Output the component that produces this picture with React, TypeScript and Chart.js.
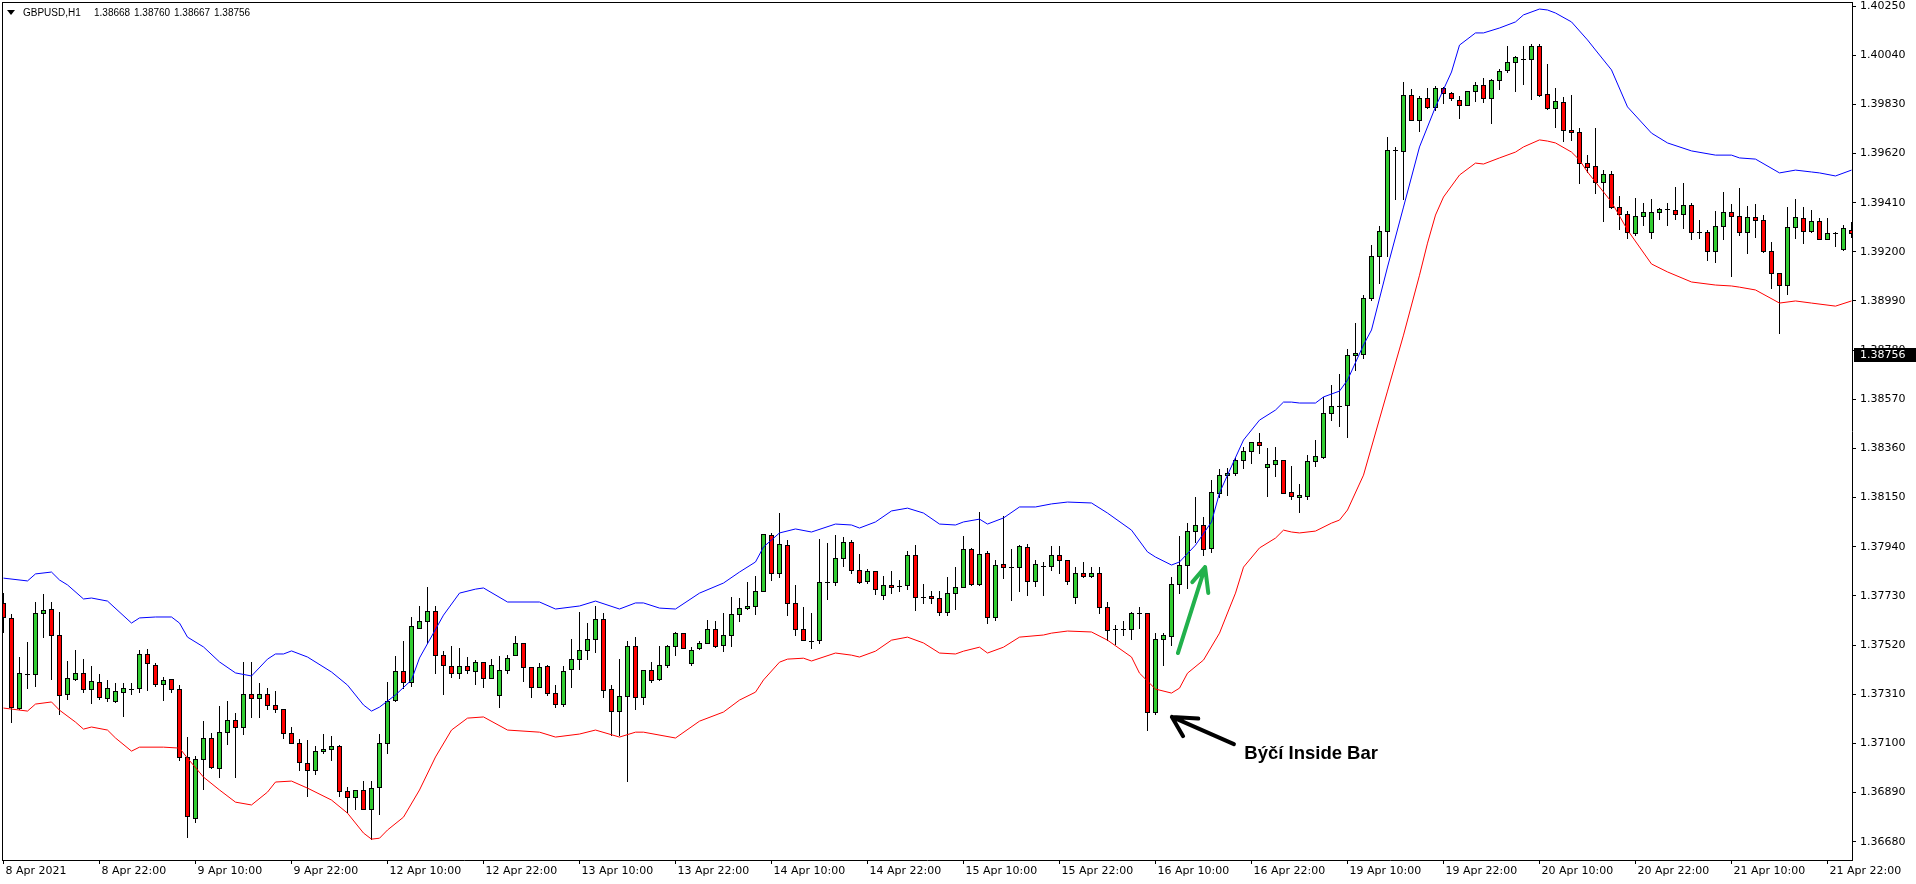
import React, { useEffect, useRef } from 'react';
import { Chart, registerables } from 'chart.js';

Chart.register(...registerables);

// ---------- DATA (GBPUSD H1, bar index 0 = 8 Apr 2021 10:00) ----------
const OPEN = [
  1.37698,1.37634,1.37252,1.37396,1.37395,1.37655,1.37672,1.37561,1.37309,1.37376,1.37399,1.37331,
  1.37361,1.37292,1.37282,1.37318,1.37333,1.37335,1.37484,1.37437,1.37352,1.37373,1.37331,1.37043,
  1.36780,1.37032,1.37121,1.36997,1.37147,1.37198,1.37168,1.37309,1.37292,1.37309,1.37262,1.37245,
  1.37143,1.37100,1.37015,1.36985,1.37066,1.37075,1.37088,1.36895,1.36872,1.36899,1.36818,1.36912,
  1.37100,1.37284,1.37408,1.37361,1.37595,1.37621,1.37664,1.37476,1.37431,1.37399,1.37429,1.37408,
  1.37446,1.37378,1.37305,1.37412,1.37476,1.37531,1.37425,1.37343,1.37429,1.37314,1.37267,1.37416,
  1.37459,1.37497,1.37548,1.37630,1.37331,1.37237,1.37301,1.37514,1.37297,1.37412,1.37373,1.37437,
  1.37514,1.37570,1.37442,1.37506,1.37527,1.37587,1.37519,1.37565,1.37651,1.37677,1.37689,1.37753,
  1.37989,1.37830,1.37946,1.37698,1.37587,1.37538,1.37540,1.37789,1.37788,1.37890,1.37959,1.37840,
  1.37792,1.37835,1.37732,1.37775,1.37773,1.37775,1.37903,1.37726,1.37728,1.37719,1.37660,1.37741,
  1.37766,1.37929,1.37779,1.37912,1.37638,1.37865,1.37852,1.37852,1.37937,1.37792,1.37859,1.37856,
  1.37903,1.37882,1.37724,1.37830,1.37813,1.37830,1.37681,1.37587,1.37587,1.37587,1.37655,1.37655,
  1.37235,1.37548,1.37559,1.37779,1.37860,1.38006,1.38031,1.37933,1.38169,1.38245,1.38254,1.38311,
  1.38349,1.38386,1.38280,1.38293,1.38311,1.38173,1.38152,1.38156,1.38306,1.38323,1.38510,1.38540,
  1.38544,1.38758,1.38765,1.39001,1.39181,1.39288,1.39633,1.39629,1.39869,1.39762,1.39856,1.39817,
  1.39899,1.39878,1.39848,1.39826,1.39886,1.39912,1.39856,1.39933,1.39975,1.40010,1.40025,1.40023,
  1.40078,1.39873,1.39813,1.39839,1.39720,1.39711,1.39578,1.39565,1.39497,1.39531,1.39390,1.39360,
  1.39279,1.39352,1.39283,1.39369,1.39382,1.39377,1.39360,1.39399,1.39283,1.39283,1.39202,1.39309,
  1.39369,1.39352,1.39283,1.39348,1.39335,1.39202,1.39108,1.39057,1.39305,1.39343,1.39288,1.39331,
  1.39254,1.39279,1.39211,1.39292,
];

const HIGH = [
  1.37742,1.37651,1.37470,1.37534,1.37702,1.37738,1.37703,1.37661,1.37452,1.37499,1.37460,1.37430,
  1.37395,1.37369,1.37356,1.37356,1.37356,1.37499,1.37503,1.37442,1.37383,1.37373,1.37349,1.37127,
  1.37047,1.37197,1.37145,1.37259,1.37281,1.37228,1.37447,1.37447,1.37356,1.37336,1.37323,1.37245,
  1.37168,1.37117,1.37114,1.37089,1.37140,1.37131,1.37092,1.36913,1.36899,1.36938,1.36939,1.37140,
  1.37362,1.37473,1.37537,1.37639,1.37686,1.37768,1.37686,1.37494,1.37516,1.37507,1.37467,1.37455,
  1.37446,1.37459,1.37473,1.37476,1.37558,1.37531,1.37425,1.37442,1.37433,1.37348,1.37429,1.37544,
  1.37661,1.37613,1.37686,1.37655,1.37348,1.37459,1.37536,1.37553,1.37412,1.37446,1.37514,1.37519,
  1.37574,1.37570,1.37510,1.37536,1.37625,1.37621,1.37655,1.37724,1.37720,1.37789,1.37814,1.37994,
  1.37998,1.38083,1.37968,1.37775,1.37681,1.37655,1.37972,1.37955,1.37989,1.37980,1.37968,1.37908,
  1.37843,1.37835,1.37813,1.37835,1.37796,1.37920,1.37946,1.37779,1.37749,1.37749,1.37809,1.37852,
  1.37985,1.37933,1.38087,1.37924,1.37882,1.38072,1.37929,1.37946,1.37950,1.37882,1.37873,1.37942,
  1.37942,1.37882,1.37852,1.37873,1.37852,1.37852,1.37706,1.37604,1.37621,1.37660,1.37681,1.37655,
  1.37570,1.37570,1.37811,1.37985,1.38041,1.38154,1.38069,1.38225,1.38271,1.38276,1.38319,1.38367,
  1.38386,1.38424,1.38361,1.38365,1.38311,1.38284,1.38208,1.38331,1.38397,1.38579,1.38631,1.38678,
  1.38786,1.38894,1.39015,1.39228,1.39310,1.39690,1.39647,1.39926,1.39895,1.39865,1.39899,1.39907,
  1.39903,1.39882,1.39865,1.39886,1.39924,1.39941,1.39937,1.39980,1.40078,1.40035,1.40078,1.40087,
  1.40087,1.40001,1.39899,1.39860,1.39869,1.39728,1.39612,1.39729,1.39548,1.39544,1.39437,1.39373,
  1.39429,1.39407,1.39424,1.39386,1.39407,1.39475,1.39493,1.39407,1.39335,1.39292,1.39373,1.39454,
  1.39403,1.39471,1.39394,1.39403,1.39356,1.39241,1.39108,1.39390,1.39424,1.39390,1.39378,1.39343,
  1.39343,1.39283,1.39314,1.39326,
];

const LOW = [
  1.37577,1.37190,1.37247,1.37338,1.37346,1.37555,1.37375,1.37224,1.37291,1.37370,1.37318,1.37273,
  1.37288,1.37281,1.37278,1.37218,1.37309,1.37320,1.37328,1.37346,1.37286,1.37318,1.37029,1.36699,
  1.36765,1.36905,1.36996,1.36957,1.37096,1.36957,1.37139,1.37214,1.37214,1.37245,1.37235,1.37124,
  1.37100,1.36986,1.36876,1.36970,1.37057,1.37027,1.36876,1.36805,1.36818,1.36818,1.36690,1.36797,
  1.37060,1.37279,1.37335,1.37344,1.37591,1.37527,1.37399,1.37309,1.37382,1.37378,1.37399,1.37352,
  1.37342,1.37378,1.37254,1.37399,1.37476,1.37367,1.37297,1.37339,1.37305,1.37254,1.37258,1.37339,
  1.37416,1.37459,1.37489,1.37299,1.37134,1.37134,1.36938,1.37245,1.37267,1.37361,1.37369,1.37425,
  1.37476,1.37506,1.37437,1.37502,1.37527,1.37510,1.37493,1.37514,1.37621,1.37672,1.37651,1.37749,
  1.37796,1.37809,1.37647,1.37561,1.37540,1.37506,1.37531,1.37718,1.37775,1.37856,1.37830,1.37784,
  1.37784,1.37740,1.37715,1.37741,1.37749,1.37758,1.37668,1.37698,1.37698,1.37647,1.37647,1.37672,
  1.37766,1.37775,1.37775,1.37613,1.37625,1.37806,1.37711,1.37749,1.37736,1.37771,1.37732,1.37840,
  1.37830,1.37779,1.37698,1.37809,1.37809,1.37655,1.37540,1.37523,1.37561,1.37548,1.37595,1.37158,
  1.37224,1.37434,1.37520,1.37741,1.37765,1.37959,1.37903,1.37918,1.38152,1.38161,1.38246,1.38275,
  1.38297,1.38339,1.38155,1.38242,1.38169,1.38143,1.38090,1.38143,1.38284,1.38319,1.38482,1.38454,
  1.38407,1.38697,1.38746,1.38994,1.39066,1.39182,1.39425,1.39424,1.39762,1.39717,1.39813,1.39805,
  1.39835,1.39848,1.39771,1.39826,1.39843,1.39839,1.39749,1.39894,1.39967,1.39886,1.39916,1.39854,
  1.39865,1.39809,1.39733,1.39673,1.39677,1.39493,1.39543,1.39450,1.39331,1.39386,1.39296,1.39258,
  1.39271,1.39313,1.39258,1.39339,1.39313,1.39339,1.39301,1.39254,1.39258,1.39164,1.39156,1.39254,
  1.39096,1.39271,1.39194,1.39262,1.39198,1.39044,1.38852,1.39019,1.39258,1.39237,1.39283,1.39254,
  1.39254,1.39224,1.39207,1.39262,
];

const CLOSE = [
  1.37638,1.37256,1.37399,1.37396,1.37655,1.37669,1.37561,1.37305,1.37378,1.37399,1.37331,1.37365,
  1.37297,1.37335,1.37322,1.37335,1.37333,1.37480,1.37442,1.37352,1.37369,1.37332,1.37043,1.36788,
  1.37033,1.37121,1.37000,1.37148,1.37198,1.37168,1.37311,1.37292,1.37309,1.37262,1.37245,1.37143,
  1.37100,1.37022,1.36985,1.37066,1.37075,1.37088,1.36895,1.36872,1.36899,1.36818,1.36908,1.37100,
  1.37279,1.37408,1.37361,1.37600,1.37621,1.37664,1.37476,1.37437,1.37399,1.37429,1.37412,1.37446,
  1.37378,1.37437,1.37412,1.37463,1.37531,1.37425,1.37343,1.37425,1.37314,1.37267,1.37408,1.37459,
  1.37497,1.37544,1.37630,1.37327,1.37237,1.37301,1.37514,1.37297,1.37412,1.37369,1.37437,1.37514,
  1.37570,1.37506,1.37497,1.37527,1.37587,1.37514,1.37565,1.37651,1.37677,1.37689,1.37753,1.37994,
  1.37830,1.37950,1.37698,1.37587,1.37540,1.37538,1.37788,1.37789,1.37890,1.37959,1.37840,1.37788,
  1.37835,1.37758,1.37775,1.37766,1.37773,1.37903,1.37724,1.37726,1.37719,1.37660,1.37741,1.37766,
  1.37929,1.37779,1.37907,1.37642,1.37860,1.37852,1.37852,1.37942,1.37792,1.37865,1.37859,1.37903,
  1.37882,1.37792,1.37826,1.37813,1.37830,1.37681,1.37583,1.37587,1.37587,1.37655,1.37655,1.37236,
  1.37548,1.37562,1.37783,1.37860,1.38006,1.38031,1.37929,1.38173,1.38245,1.38254,1.38311,1.38349,
  1.38386,1.38373,1.38293,1.38311,1.38171,1.38156,1.38160,1.38306,1.38327,1.38510,1.38540,1.38540,
  1.38758,1.38766,1.39001,1.39181,1.39289,1.39633,1.39633,1.39869,1.39762,1.39856,1.39817,1.39899,
  1.39878,1.39856,1.39826,1.39886,1.39912,1.39856,1.39933,1.39971,1.40010,1.40031,1.40025,1.40078,
  1.39869,1.39813,1.39843,1.39720,1.39711,1.39578,1.39561,1.39497,1.39531,1.39390,1.39360,1.39283,
  1.39352,1.39369,1.39369,1.39382,1.39382,1.39360,1.39399,1.39283,1.39283,1.39202,1.39309,1.39369,
  1.39352,1.39283,1.39348,1.39335,1.39202,1.39108,1.39057,1.39305,1.39348,1.39288,1.39331,1.39254,
  1.39279,1.39279,1.39301,1.39279,
];

// Envelope bands (bar index, price)
const UPPER_BAR = [0,3,4,6,7,8,10,11,13,16,17,19,21,22,23,25,27,29,31,33,34,35,36,38,41,43,45,46,47,49,51,52,55,57,59,60,63,67,69,72,74,77,79,80,82,84,87,90,92,94,95,97,99,101,104,106,107,109,111,113,115,117,119,120,122,123,125,127,129,131,133,136,138,141,143,144,146,147,149,151,152,153,155,157,159,160,161,162,164,165,167,168,170,171,173,175,177,179,181,182,184,185,187,189,190,192,193,194,196,198,199,201,203,206,208,211,214,216,217,219,222,224,226,227,229,231];
const UPPER_VAL = [1.37806,1.37794,1.37824,1.37832,1.37798,1.37777,1.37717,1.37721,1.37708,1.37614,1.37636,1.37640,1.37640,1.37614,1.37554,1.37512,1.37448,1.37401,1.37388,1.37460,1.37482,1.37482,1.37495,1.37469,1.37405,1.37349,1.37264,1.37238,1.37255,1.37307,1.37371,1.37465,1.37648,1.37742,1.37759,1.37764,1.37704,1.37704,1.37674,1.37687,1.37708,1.37674,1.37700,1.37700,1.37678,1.37674,1.37742,1.37785,1.37832,1.37875,1.37939,1.37999,1.38016,1.38003,1.38037,1.38033,1.38020,1.38046,1.38093,1.38105,1.38084,1.38037,1.38033,1.38046,1.38058,1.38037,1.38063,1.38110,1.38110,1.38123,1.38131,1.38127,1.38084,1.38011,1.37918,1.37896,1.37862,1.37875,1.37947,1.38046,1.38170,1.38246,1.38396,1.38481,1.38524,1.38558,1.38558,1.38554,1.38554,1.38580,1.38605,1.38652,1.38802,1.38866,1.39135,1.39391,1.39648,1.39819,1.39968,1.40083,1.40135,1.40135,1.40156,1.40182,1.40212,1.40237,1.40233,1.40220,1.40182,1.40105,1.40062,1.39977,1.39819,1.39707,1.39665,1.39631,1.39613,1.39613,1.39601,1.39596,1.39537,1.39549,1.39541,1.39537,1.39524,1.39549];

const LOWER_BAR = [0,3,4,6,7,9,10,11,13,14,16,17,20,22,23,25,27,29,31,33,34,36,38,41,43,45,46,47,48,50,52,54,56,58,60,63,67,69,72,74,77,79,80,84,87,90,92,94,95,97,98,100,101,104,106,107,109,111,113,115,117,119,120,122,123,125,127,130,131,133,136,138,141,142,144,146,147,148,150,152,153,154,155,157,159,160,161,162,164,166,167,168,170,171,172,173,174,175,177,178,179,180,182,184,185,187,189,190,192,193,194,196,197,198,199,201,203,206,208,211,214,216,217,219,222,224,226,229,231];
const LOWER_VAL = [1.37251,1.37238,1.37268,1.37277,1.37242,1.37191,1.37161,1.37170,1.37157,1.37123,1.37067,1.37084,1.37084,1.37080,1.37037,1.36956,1.36901,1.36849,1.36837,1.36892,1.36935,1.36939,1.36909,1.36858,1.36802,1.36717,1.36691,1.36695,1.36730,1.36785,1.36901,1.37042,1.37157,1.37208,1.37213,1.37157,1.37148,1.37127,1.37140,1.37157,1.37127,1.37148,1.37148,1.37123,1.37195,1.37234,1.37285,1.37319,1.37371,1.37447,1.37460,1.37464,1.37452,1.37486,1.37477,1.37469,1.37494,1.37541,1.37554,1.37529,1.37486,1.37482,1.37494,1.37511,1.37486,1.37511,1.37554,1.37563,1.37571,1.37580,1.37576,1.37541,1.37469,1.37400,1.37332,1.37315,1.37336,1.37400,1.37456,1.37571,1.37657,1.37742,1.37853,1.37935,1.37977,1.38011,1.38003,1.37999,1.38007,1.38041,1.38054,1.38097,1.38246,1.38366,1.38486,1.38605,1.38725,1.38844,1.39100,1.39237,1.39357,1.39434,1.39528,1.39579,1.39575,1.39601,1.39626,1.39648,1.39678,1.39673,1.39665,1.39626,1.39592,1.39541,1.39498,1.39413,1.39293,1.39148,1.39114,1.39071,1.39058,1.39054,1.39049,1.39037,1.38981,1.38990,1.38981,1.38968,1.38990];

const Y_TICKS = [1.40250,1.40040,1.39830,1.39620,1.39410,1.39200,1.38990,1.38780,1.38570,1.38360,1.38150,1.37940,1.37730,1.37520,1.37310,1.37100,1.36890,1.36680];
const X_TICK_BARS = [0,12,24,36,48,60,72,84,96,108,120,132,144,156,168,180,192,204,216,228];
const X_TICK_LABELS = ['8 Apr 2021','8 Apr 22:00','9 Apr 10:00','9 Apr 22:00','12 Apr 10:00','12 Apr 22:00','13 Apr 10:00','13 Apr 22:00','14 Apr 10:00','14 Apr 22:00','15 Apr 10:00','15 Apr 22:00','16 Apr 10:00','16 Apr 22:00','19 Apr 10:00','19 Apr 22:00','20 Apr 10:00','20 Apr 22:00','21 Apr 10:00','21 Apr 22:00'];

const SYMBOL = 'GBPUSD,H1';
const QUOTE = ['1.38668', '1.38760', '1.38667', '1.38756'];
const CURRENT_PRICE = 1.38756;
const NOTE_TEXT = 'Býčí Inside Bar';

// annotation anchors in data space (bar index, price)
const BLACK_ARROW = { tip: [146.05, 1.37213], tail: [153.8, 1.37097], armA: [149.35, 1.37206], armB: [147.45, 1.37131] };
const GREEN_ARROW = { tip: [150.2, 1.37853], tail: [146.8, 1.37486], armA: [148.6, 1.37789], armB: [150.6, 1.37742] };
const NOTE_POS = [155.1, 1.37055];

// ---------- STYLE ----------
const BULL = '#32CD32';
const BEAR = '#FF0000';
const X_MIN = -0.1875;
const X_MAX = 231.0625;
const Y_MIN = 1.366019;
const Y_MAX = 1.402671;

const candlePlugin = {
  id: 'candles',
  beforeDatasetsDraw(chart: any) {
    const { ctx, chartArea, scales } = chart;
    const xs = scales.x, ys = scales.y;
    ctx.save();
    ctx.beginPath();
    ctx.rect(chartArea.left, chartArea.top, chartArea.right - chartArea.left, chartArea.bottom - chartArea.top);
    ctx.clip();
    for (let i = 0; i < OPEN.length; i++) {
      const c = Math.floor(xs.getPixelForValue(i));
      const yH = Math.round(ys.getPixelForValue(HIGH[i]));
      const yL = Math.round(ys.getPixelForValue(LOW[i]));
      const yO = ys.getPixelForValue(OPEN[i]);
      const yC = ys.getPixelForValue(CLOSE[i]);
      const top = Math.round(Math.min(yO, yC));
      const bot = Math.round(Math.max(yO, yC));
      ctx.fillStyle = '#000000';
      ctx.fillRect(c, yH, 1, yL - yH + 1);
      if (bot - top < 2) {
        ctx.fillRect(c - 2, top, 5, 1);
      } else {
        ctx.fillRect(c - 2, top, 5, bot - top + 1);
        ctx.fillStyle = CLOSE[i] >= OPEN[i] ? BULL : BEAR;
        ctx.fillRect(c - 1, top + 1, 3, bot - top - 1);
      }
    }
    ctx.restore();
  },
};

const decorPlugin = {
  id: 'decor',
  afterDatasetsDraw(chart: any) {
    const { ctx, chartArea, scales } = chart;
    const xs = scales.x, ys = scales.y;
    const P = (p: number[]) => [xs.getPixelForValue(p[0]), ys.getPixelForValue(p[1])];
    ctx.save();
    // frame top & left
    ctx.fillStyle = '#000';
    ctx.fillRect(chartArea.left, chartArea.top, chartArea.right - chartArea.left, 1);
    ctx.fillRect(chartArea.left, chartArea.top, 1, chartArea.bottom - chartArea.top);

    const arrow = (a: any, color: string) => {
      const tip = P(a.tip), tail = P(a.tail), ea = P(a.armA), eb = P(a.armB);
      ctx.strokeStyle = color;
      ctx.lineWidth = 4;
      ctx.lineCap = 'round';
      ctx.lineJoin = 'round';
      ctx.beginPath();
      ctx.moveTo(tail[0], tail[1]);
      ctx.lineTo(tip[0], tip[1]);
      ctx.moveTo(ea[0], ea[1]);
      ctx.lineTo(tip[0], tip[1]);
      ctx.lineTo(eb[0], eb[1]);
      ctx.stroke();
    };
    arrow(BLACK_ARROW, '#000000');
    arrow(GREEN_ARROW, '#22B14C');

    const np = P(NOTE_POS);
    ctx.fillStyle = '#000';
    ctx.font = 'bold 18.5px "Liberation Sans", Arial, sans-serif';
    ctx.textBaseline = 'middle';
    ctx.textAlign = 'left';
    ctx.fillText(NOTE_TEXT, np[0], np[1]);

    // title
    ctx.beginPath();
    ctx.moveTo(7, 10);
    ctx.lineTo(15, 10);
    ctx.lineTo(11, 15);
    ctx.closePath();
    ctx.fill();
    ctx.font = '10px "Liberation Sans", Arial, sans-serif';
    ctx.fillText(SYMBOL, 23, 13);
    QUOTE.forEach((q, k) => ctx.fillText(q, 94 + k * 40, 13));
    ctx.restore();
  },
  afterDraw(chart: any) {
    const { ctx, chartArea, scales } = chart;
    const py = Math.round(scales.y.getPixelForValue(CURRENT_PRICE));
    ctx.save();
    ctx.fillStyle = '#000';
    ctx.fillRect(chartArea.right + 2, py - 8, 1916 - chartArea.right - 2, 14);
    ctx.fillStyle = '#fff';
    ctx.font = '11px "DejaVu Sans", sans-serif';
    ctx.textBaseline = 'middle';
    ctx.textAlign = 'left';
    ctx.fillText(CURRENT_PRICE.toFixed(5), chartArea.right + 8, py - 1);
    ctx.restore();
  },
};

export default function App() {
  const ref = useRef<HTMLCanvasElement | null>(null);
  useEffect(() => {
    const canvas = ref.current;
    if (!canvas) return;
    const chart = new Chart(canvas, {
      type: 'line',
      data: {
        datasets: [
          {
            label: 'Upper',
            data: UPPER_BAR.map((b, k) => ({ x: b, y: UPPER_VAL[k] })),
            borderColor: '#0000FF',
            borderWidth: 1,
            pointRadius: 0,
            tension: 0,
            fill: false,
          },
          {
            label: 'Lower',
            data: LOWER_BAR.map((b, k) => ({ x: b, y: LOWER_VAL[k] })),
            borderColor: '#FF0000',
            borderWidth: 1,
            pointRadius: 0,
            tension: 0,
            fill: false,
          },
        ],
      },
      options: {
        animation: false,
        responsive: false,
        maintainAspectRatio: false,
        devicePixelRatio: 1,
        layout: { padding: { left: 2, top: 2, right: 0, bottom: 0 } },
        plugins: { legend: { display: false }, tooltip: { enabled: false }, title: { display: false } },
        scales: {
          x: {
            type: 'linear',
            position: 'bottom',
            min: X_MIN,
            max: X_MAX,
            afterBuildTicks: (s: any) => { s.ticks = X_TICK_BARS.map((v) => ({ value: v })); },
            afterFit: (s: any) => { s.height = 24; s.paddingLeft = 0; s.paddingRight = 0; },
            ticks: {
              autoSkip: false,
              maxRotation: 0,
              minRotation: 0,
              align: 'start',
              labelOffset: 2,
              padding: 1,
              color: '#000',
              font: { family: 'DejaVu Sans', size: 11 },
              callback: (_v: any, i: number) => X_TICK_LABELS[i],
            },
            grid: { display: true, drawOnChartArea: false, drawTicks: true, tickLength: 4, color: '#000' },
            border: { display: true, color: '#000', width: 1 },
          },
          y: {
            type: 'linear',
            position: 'right',
            min: Y_MIN,
            max: Y_MAX,
            afterBuildTicks: (s: any) => { s.ticks = Y_TICKS.map((v) => ({ value: v })); },
            afterFit: (s: any) => { s.width = 64; s.paddingTop = 0; s.paddingBottom = 0; },
            ticks: {
              autoSkip: false,
              padding: 4,
              color: '#000',
              font: { family: 'DejaVu Sans', size: 11 },
              callback: (v: any) => Number(v).toFixed(5),
            },
            grid: { display: true, drawOnChartArea: false, drawTicks: true, tickLength: 4, color: '#000' },
            border: { display: true, color: '#000', width: 1 },
          },
        },
      } as any,
      plugins: [candlePlugin, decorPlugin],
    });
    return () => chart.destroy();
  }, []);

  return (
    <div style={{ position: 'fixed', left: 0, top: 0, width: 1916, height: 884, background: '#ffffff' }}>
      <canvas ref={ref} width={1916} height={884} style={{ display: 'block', width: 1916, height: 884 }} />
    </div>
  );
}
